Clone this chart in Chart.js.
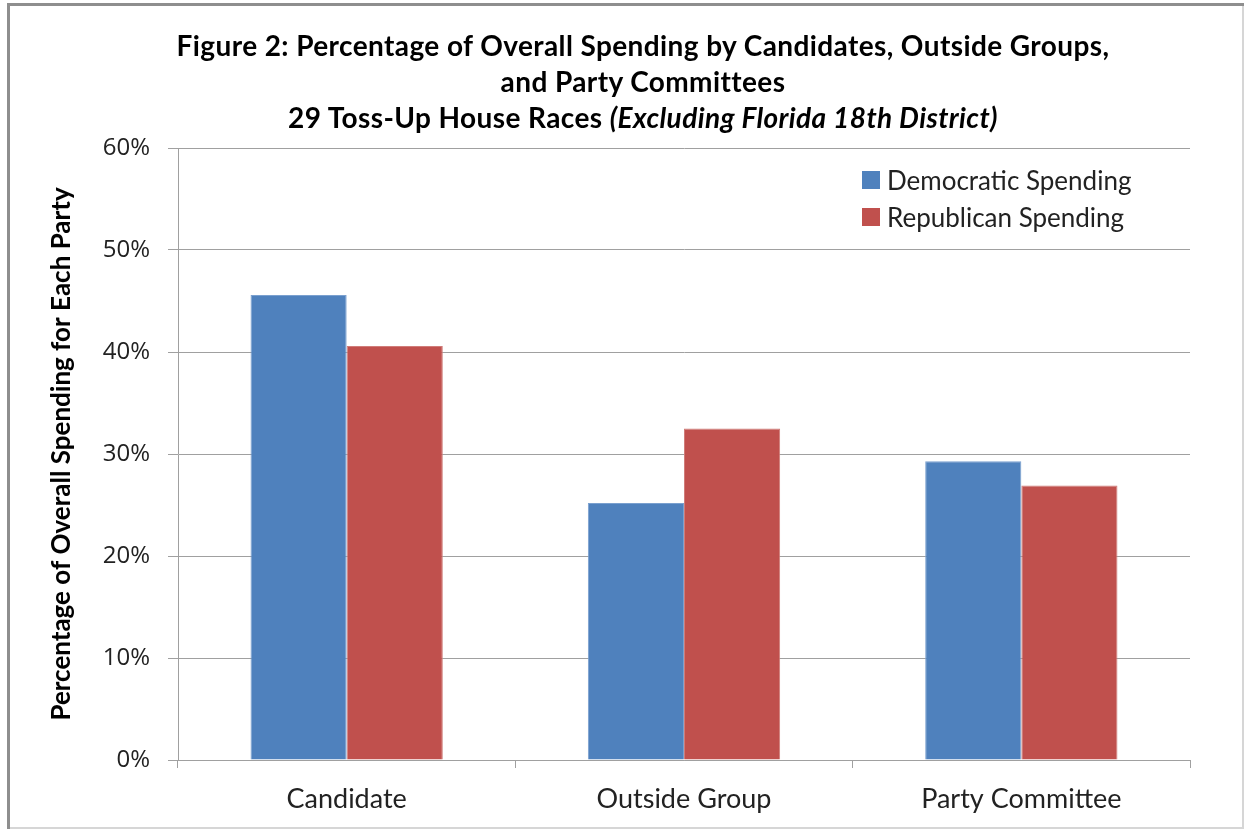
<!DOCTYPE html>
<html>
<head>
<meta charset="utf-8">
<script src="https://cdn.jsdelivr.net/npm/chart.js@4.4.0/dist/chart.umd.min.js"></script>
<style>
  body { margin: 0; background: #fff; }
  #wrap { position: relative; width: 1244px; height: 829px; overflow: hidden; }
  #chart { position: absolute; left: 0; top: 0; }
  #title {
    position: absolute; left: 21px; top: 27px; width: 1244px; text-align: center;
    font-family: Lato, sans-serif; font-weight: bold; font-size: 28px; line-height: 36px; color: #000;
    letter-spacing: 0.4px;
  }
  #legend { position: absolute; left: 862px; top: 161px; font-family: Lato, sans-serif; font-size: 26px; color: #222; }
  .row { height: 37px; display: flex; align-items: center; }
  .box { width: 18px; height: 18px; margin-right: 7px; }
</style>
</head>
<body>
<div id="wrap">
  <canvas id="chart" width="1244" height="829"></canvas>
  <div id="title">Figure 2: Percentage of Overall Spending by Candidates, Outside Groups,<br>and Party Committees<br>29 Toss-Up House Races <i>(Excluding Florida 18th District)</i></div>
  <div id="legend"></div>
</div>
<script>
var categories = ['Candidate', 'Outside Group', 'Party Committee'];
var demSpending = [45.6, 25.2, 29.3];
var repSpending = [40.6, 32.5, 26.9];
var yTicks = [0, 10, 20, 30, 40, 50, 60];

var gridColor = '#a0a0a0';

// white page and the grey frame round it
var framePlugin = {
    id: 'frame',
    beforeDraw: function(chart) {
        var c = chart.ctx;
        c.save();
        c.fillStyle = '#fff';
        c.fillRect(0, 0, chart.width, chart.height);
        c.fillStyle = '#8e8e8e';
        c.fillRect(7, 3, chart.width - 7, 3);
        c.fillRect(7, 3, 3, chart.height - 3);
        c.fillStyle = '#d6d6d6';
        c.fillRect(chart.width - 2, 6, 2, chart.height - 6);
        c.fillRect(10, chart.height - 2, chart.width - 10, 2);
        c.restore();
    }
};

var ctx = document.getElementById('chart').getContext('2d');
var chart = new Chart(ctx, {
    type: 'bar',
    data: {
        labels: categories,
        datasets: [{
            label: 'Democratic Spending',
            data: demSpending,
            backgroundColor: '#4f81bd',
            borderColor: '#7aa0cf',
            borderWidth: 1
        }, {
            label: 'Republican Spending',
            data: repSpending,
            backgroundColor: '#c0504d',
            borderColor: '#d07c79',
            borderWidth: 1
        }]
    },
    options: {
        responsive: false,
        animation: false,
        layout: { padding: { left: 10, right: 54, top: 148, bottom: 0 } },
        datasets: { bar: { categoryPercentage: 0.57, barPercentage: 1.0 } },
        plugins: {
            legend: { display: false },
            title: { display: false },
            tooltip: { enabled: false }
        },
        scales: {
            x: {
                grid: { offset: true, drawOnChartArea: false, drawTicks: true, tickLength: 8, color: gridColor },
                border: { color: gridColor, width: 1 },
                ticks: { color: '#222', padding: 15, font: { family: 'Lato', size: 27 } },
                afterFit: function(scale) { scale.height = 829 - 760; }
            },
            y: {
                min: 0,
                max: 60,
                afterBuildTicks: function(scale) {
                    scale.ticks = yTicks.map(function(v) { return { value: v }; });
                },
                grid: { color: gridColor, drawTicks: true, tickLength: 10 },
                border: { color: gridColor, width: 1 },
                ticks: {
                    color: '#222', padding: 18,
                    font: { family: 'Open Sans', size: 24 },
                    callback: function(v) { return v + '%'; }
                },
                title: {
                    display: true,
                    text: 'Percentage of Overall Spending for Each Party',
                    color: '#000',
                    font: { family: 'Lato', size: 26, weight: 'bold' },
                    padding: { top: 36, bottom: 0 }
                },
                afterFit: function(scale) { scale.width = 178 - 10; }
            }
        }
    },
    plugins: [framePlugin]
});

// legend built from the datasets
var legendDiv = document.getElementById('legend');
chart.data.datasets.forEach(function(ds) {
    var row = document.createElement('div');
    row.className = 'row';
    var box = document.createElement('span');
    box.className = 'box';
    box.style.background = ds.backgroundColor;
    var txt = document.createElement('span');
    txt.textContent = ds.label;
    row.appendChild(box);
    row.appendChild(txt);
    legendDiv.appendChild(row);
});
</script>
</body>
</html>
